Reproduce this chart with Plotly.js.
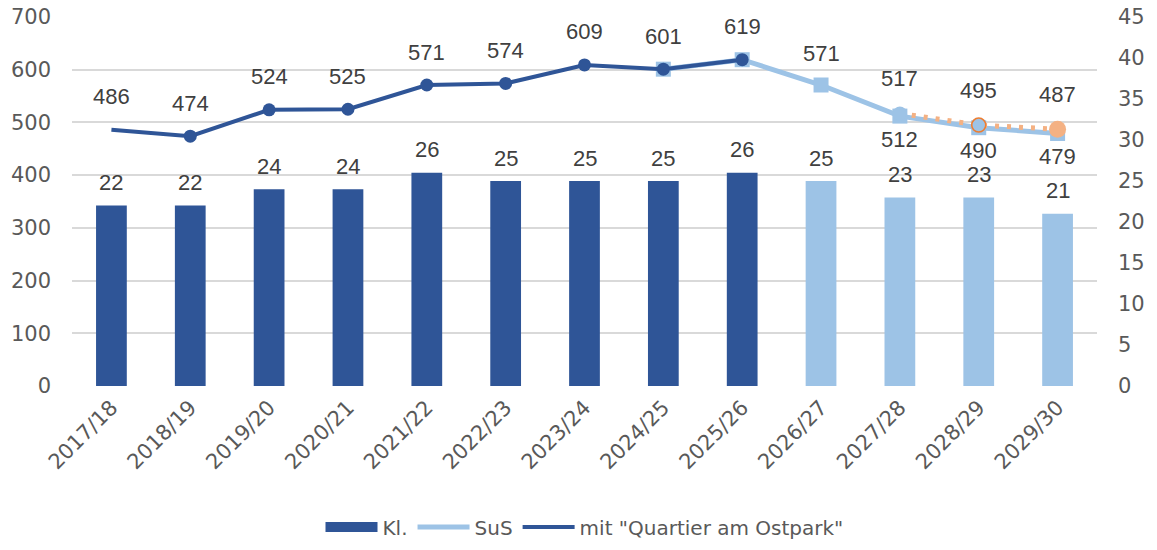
<!DOCTYPE html>
<html>
<head>
<meta charset="utf-8">
<script src="https://cdn.plot.ly/plotly-3.0.1.min.js"></script>
<style>html,body{margin:0;padding:0;background:#fff;}#chart{width:1157px;height:550px;}</style>
</head>
<body>
<div id="chart"></div>
<script>
const categories = ['2017/18','2018/19','2019/20','2020/21','2021/22','2022/23','2023/24','2024/25','2025/26','2026/27','2027/28','2028/29','2029/30'];
const klassen = [22,22,24,24,26,25,25,25,26,25,23,23,21];
const mitQuartier = [486,474,524,525,571,574,609,601,619,null,null,null,null];
const sus = [null,null,null,null,null,null,null,601,619,571,512,490,479];
const mitQuartierPrognose = [null,null,null,null,null,null,null,null,null,null,517,495,487];

const DARK = '#2F5597', LIGHT = '#9DC3E6', ORANGE = '#F4B183';
const FONT = 'Liberation Sans, Arial, sans-serif';
const TFONT = 'DejaVu Sans, sans-serif';
const LBL = '#404040', TICK = '#595959';

const barColors = categories.map((c, i) => i <= 8 ? DARK : LIGHT);

const traces = [
  {type:'bar', x:categories, y:klassen, yaxis:'y2', name:'Kl.', showlegend:false, marker:{color:barColors}, width:0.39, hoverinfo:'skip'},
  {type:'scatter', mode:'lines', x:[null], y:[null], name:'Kl.', line:{color:DARK, width:14}, hoverinfo:'skip'},
  {type:'scatter', mode:'lines', x:categories, y:sus, name:'SuS', line:{color:LIGHT, width:5}, connectgaps:false, hoverinfo:'skip'},
  {type:'scatter', mode:'markers', x:categories, y:sus, showlegend:false, marker:{symbol:'square', size:15, color:LIGHT, opacity:1}, hoverinfo:'skip'},
  {type:'scatter', mode:'lines', x:categories, y:mitQuartier, name:'mit "Quartier am Ostpark"', line:{color:DARK, width:4}, hoverinfo:'skip'},
  {type:'scatter', mode:'markers', x:categories, y:mitQuartier, showlegend:false,
    marker:{symbol:'circle', size:categories.map((c,i)=> i===0 ? 0 : 13), color:DARK, opacity:1, line:{width:0}}, hoverinfo:'skip'},
  {type:'scatter', mode:'lines', x:categories, y:mitQuartierPrognose, showlegend:false, line:{color:ORANGE, width:5, dash:'4px,8px'}, hoverinfo:'skip'},
  {type:'scatter', mode:'markers', x:categories, y:mitQuartierPrognose, showlegend:false,
    marker:{symbol:'circle', size:categories.map((c,i)=> i===12 ? 17 : 14), opacity:1, color:categories.map((c,i)=> i===12 ? ORANGE : LIGHT),
      line:{color:categories.map((c,i)=> i===11 ? '#ED7D31' : 'rgba(0,0,0,0)'), width:1.5}}, hoverinfo:'skip'}
];

const annotations = [];
const lblFont = {family:FONT, size:22, color:LBL};
klassen.forEach((v,i)=>{
  annotations.push({x:categories[i], y:v, xref:'x', yref:'y2', text:String(v), showarrow:false, yshift:23, font:lblFont});
});
mitQuartier.forEach((v,i)=>{
  if (v===null) return;
  annotations.push({x:categories[i], y:v, xref:'x', yref:'y', text:String(v), showarrow:false, yshift:33, font:lblFont});
});
sus.forEach((v,i)=>{
  if (v===null || mitQuartier[i]!==null) return;
  const below = mitQuartierPrognose[i]!==null;
  annotations.push({x:categories[i], y:v, xref:'x', yref:'y', text:String(v), showarrow:false, yshift: below ? -23 : 32, font:lblFont});
});
mitQuartierPrognose.forEach((v,i)=>{
  if (v===null) return;
  annotations.push({x:categories[i], y:v, xref:'x', yref:'y', text:String(v), showarrow:false, yshift:35, font:lblFont});
});

const layout = {
  width:1157, height:550,
  margin:{l:72, r:60, t:17, b:164, autoexpand:false},
  paper_bgcolor:'#fff', plot_bgcolor:'#fff',
  showlegend:true,
  xaxis:{type:'category', range:[-0.5,12.5], tickangle:-45, showgrid:false, zeroline:false, showline:false, ticks:'',
    ticklabelstandoff:4, tickfont:{family:TFONT, size:21, color:TICK}},
  yaxis:{range:[0,700], dtick:100, showgrid:true, gridcolor:'#D9D9D9', gridwidth:2, zeroline:false, showline:false, ticks:'',
    ticklabelstandoff:20, tickfont:{family:TFONT, size:21, color:TICK}},
  yaxis2:{range:[0,45], dtick:5, overlaying:'y', side:'right', showgrid:false, zeroline:false, showline:false, ticks:'',
    ticklabelstandoff:20, tickfont:{family:TFONT, size:21, color:TICK}},
  legend:{orientation:'h', x:0.5, xanchor:'center', yref:'container', y:0.042, yanchor:'middle',
    font:{family:TFONT, size:20, color:TICK}, itemwidth:52, traceorder:'normal'},
  annotations:annotations
};

Plotly.newPlot('chart', traces, layout, {displayModeBar:false, staticPlot:true});
</script>
</body>
</html>
